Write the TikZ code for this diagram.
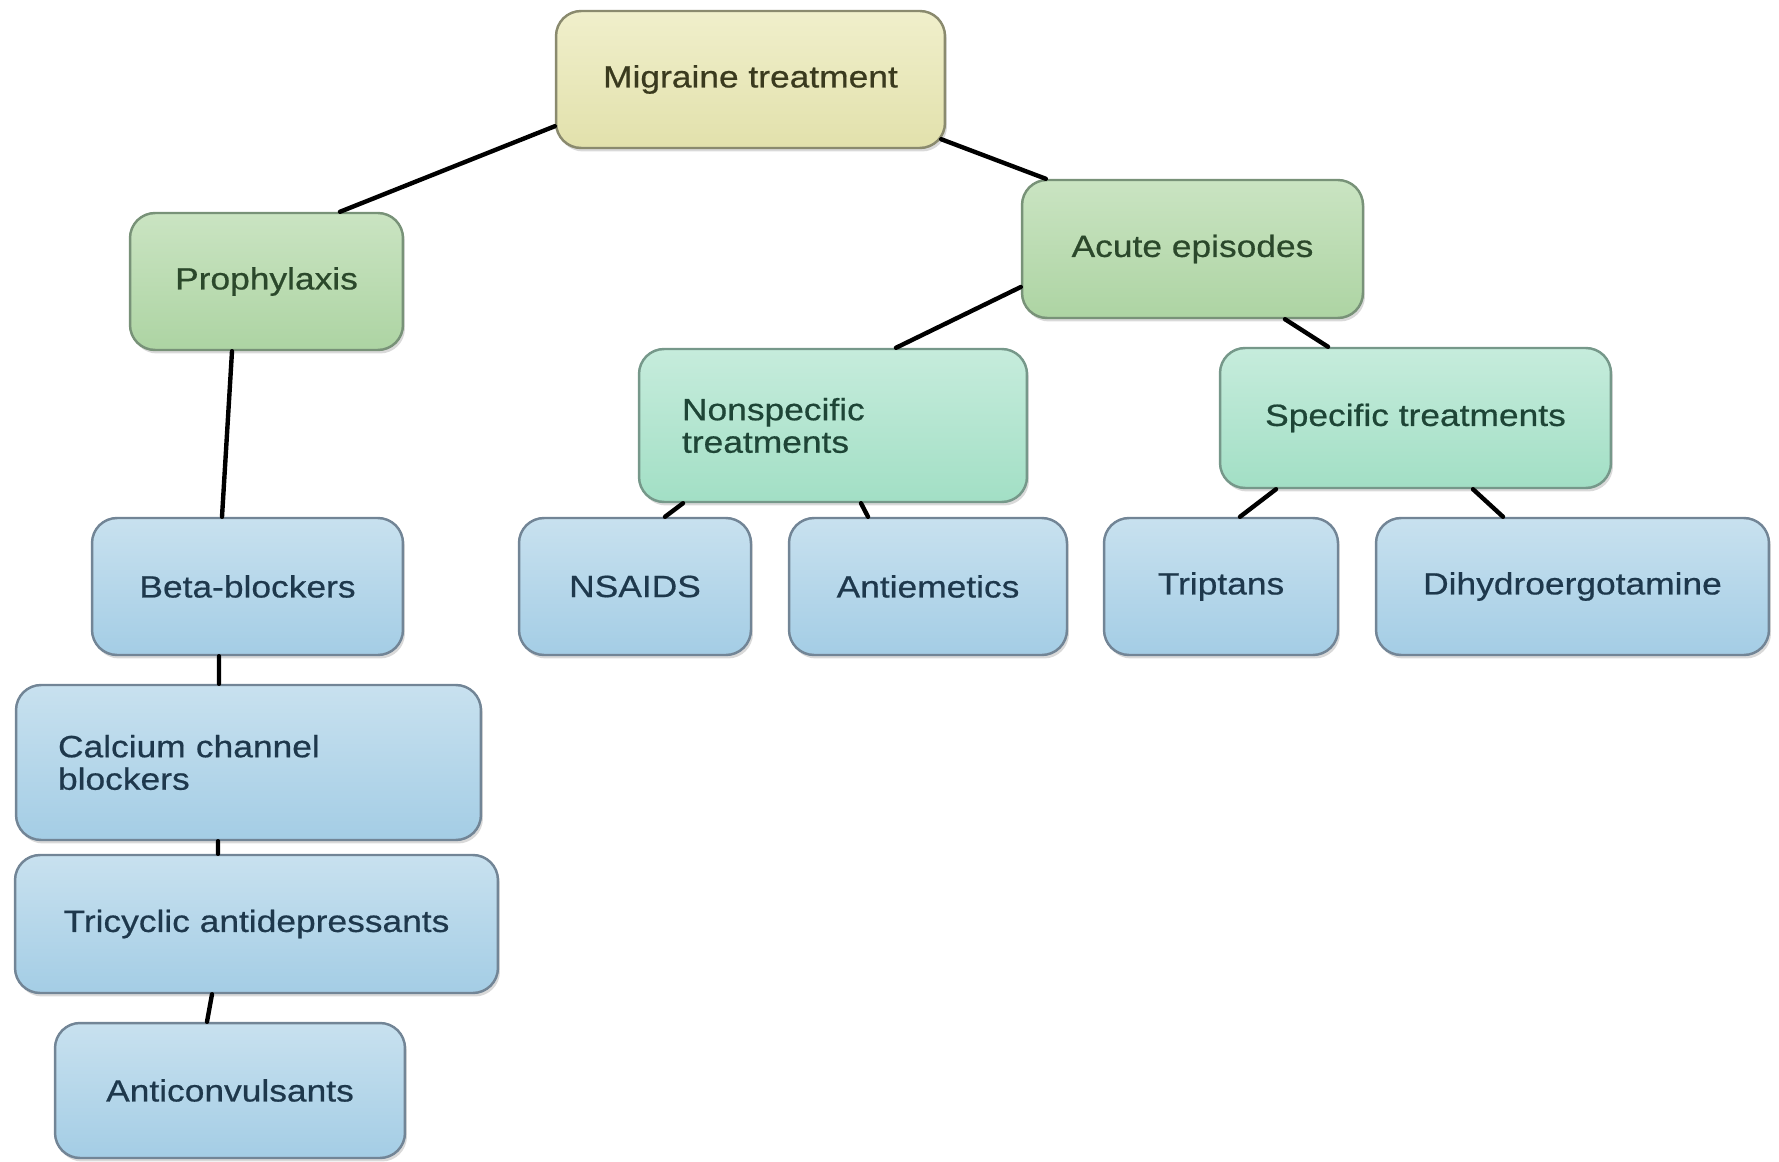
\documentclass[tikz,border=0pt]{standalone}
\usepackage{fontspec}
\setmainfont{Liberation Sans}[FakeStretch=1.15,FakeBold=0.6]
\usetikzlibrary{shadows}
\definecolor{roottop}{HTML}{F0EFCB}
\definecolor{rootbot}{HTML}{E2E1AC}
\definecolor{rootedge}{HTML}{8A8A6E}
\definecolor{roottext}{HTML}{3A3A1E}
\definecolor{greentop}{HTML}{CAE4C2}
\definecolor{greenbot}{HTML}{ADD4A3}
\definecolor{greenedge}{HTML}{789278}
\definecolor{greentext}{HTML}{2B482B}
\definecolor{minttop}{HTML}{C6ECDC}
\definecolor{mintbot}{HTML}{A2DFC5}
\definecolor{mintedge}{HTML}{76988A}
\definecolor{minttext}{HTML}{1E4536}
\definecolor{bluetop}{HTML}{C8E1EF}
\definecolor{bluebot}{HTML}{A4CDE5}
\definecolor{blueedge}{HTML}{728596}
\definecolor{bluetext}{HTML}{1E384C}

\begin{document}
\begin{tikzpicture}[x=0.02cm,y=-0.02cm,line cap=round,line join=round,
 box/.style={line width=1.4pt,rounded corners=0.5cm,inner sep=0pt,
  font=\fontsize{17.5}{18.5}\selectfont,
  drop shadow={shadow xshift=0.04cm,shadow yshift=-0.07cm,opacity=0.3}},
 rootbox/.style={box,draw=rootedge,top color=roottop,bottom color=rootbot,text=roottext},
 greenbox/.style={box,draw=greenedge,top color=greentop,bottom color=greenbot,text=greentext},
 mintbox/.style={box,draw=mintedge,top color=minttop,bottom color=mintbot,text=minttext},
 bluebox/.style={box,draw=blueedge,top color=bluetop,bottom color=bluebot,text=bluetext},
 link/.style={line width=2.5pt,black}]
 \useasboundingbox (0,0) rectangle (1779,1162);
 % Root.
 \node[rootbox,minimum width=7.78cm,minimum height=2.74cm] (mig) at (750.5,79.5) {Migraine treatment};
 % Second level.
 \node[greenbox,minimum width=5.46cm,minimum height=2.74cm] (pro) at (266.5,281.5) {Prophylaxis};
 \node[greenbox,minimum width=6.82cm,minimum height=2.76cm] (acu) at (1192.5,249) {Acute episodes};
 % Acute branches.
 \node[mintbox,minimum width=7.76cm,minimum height=3.06cm,text width=6.04cm,align=left] (nsp) at (833,425.5) {Nonspecific\\treatments};
 \node[mintbox,minimum width=7.82cm,minimum height=2.8cm] (spe) at (1415.5,418) {Specific treatments};
 \node[bluebox,minimum width=4.64cm,minimum height=2.74cm] (nsa) at (635,586.5) {NSAIDS};
 \node[bluebox,minimum width=5.56cm,minimum height=2.74cm] (ant) at (928,586.5) {Antiemetics};
 \node[bluebox,minimum width=4.68cm,minimum height=2.74cm] (tri) at (1221,586.5) {Triptans};
 \node[bluebox,minimum width=7.86cm,minimum height=2.74cm] (dhe) at (1572.5,586.5) {Dihydroergotamine};
 % Prophylaxis chain.
 \node[bluebox,minimum width=6.22cm,minimum height=2.74cm] (bet) at (247.5,586.5) {Beta-blockers};
 \node[bluebox,minimum width=9.3cm,minimum height=3.1cm,text width=7.62cm,align=left] (cal) at (248.5,762.5) {Calcium channel\\blockers};
 \node[bluebox,minimum width=9.66cm,minimum height=2.76cm] (tca) at (256.5,924) {Tricyclic antidepressants};
 \node[bluebox,minimum width=7cm,minimum height=2.7cm] (acv) at (230,1090.5) {Anticonvulsants};
 % Connectors.
 \draw[link] ([yshift=0.46cm]mig.south west) -- ([xshift=1.47cm]pro.north);
 \draw[link] ([xshift=-0.1cm,yshift=0.2cm]mig.south east) -- ([xshift=0.5cm]acu.north west);
 \draw[link] ([xshift=-0.69cm]pro.south) -- ([xshift=-0.51cm]bet.north);
 \draw[link] ([yshift=-0.76cm]acu.west) -- ([xshift=1.26cm]nsp.north);
 \draw[link] ([xshift=1.85cm]acu.south) -- ([xshift=-1.75cm]spe.north);
 \draw[link] ([xshift=-3cm]nsp.south) -- ([xshift=0.6cm]nsa.north);
 \draw[link] ([xshift=0.56cm]nsp.south) -- ([xshift=-1.2cm]ant.north);
 \draw[link] ([xshift=-2.79cm]spe.south) -- ([xshift=0.38cm]tri.north);
 \draw[link] ([xshift=1.15cm]spe.south) -- ([xshift=-1.39cm]dhe.north);
 \draw[link] ([xshift=-0.57cm]bet.south) -- ([xshift=-0.59cm]cal.north);
 \draw[link] ([xshift=-0.61cm]cal.south) -- ([xshift=-0.77cm]tca.north);
 \draw[link] ([xshift=-0.89cm]tca.south) -- ([xshift=-0.46cm]acv.north);
\end{tikzpicture}
\end{document}
